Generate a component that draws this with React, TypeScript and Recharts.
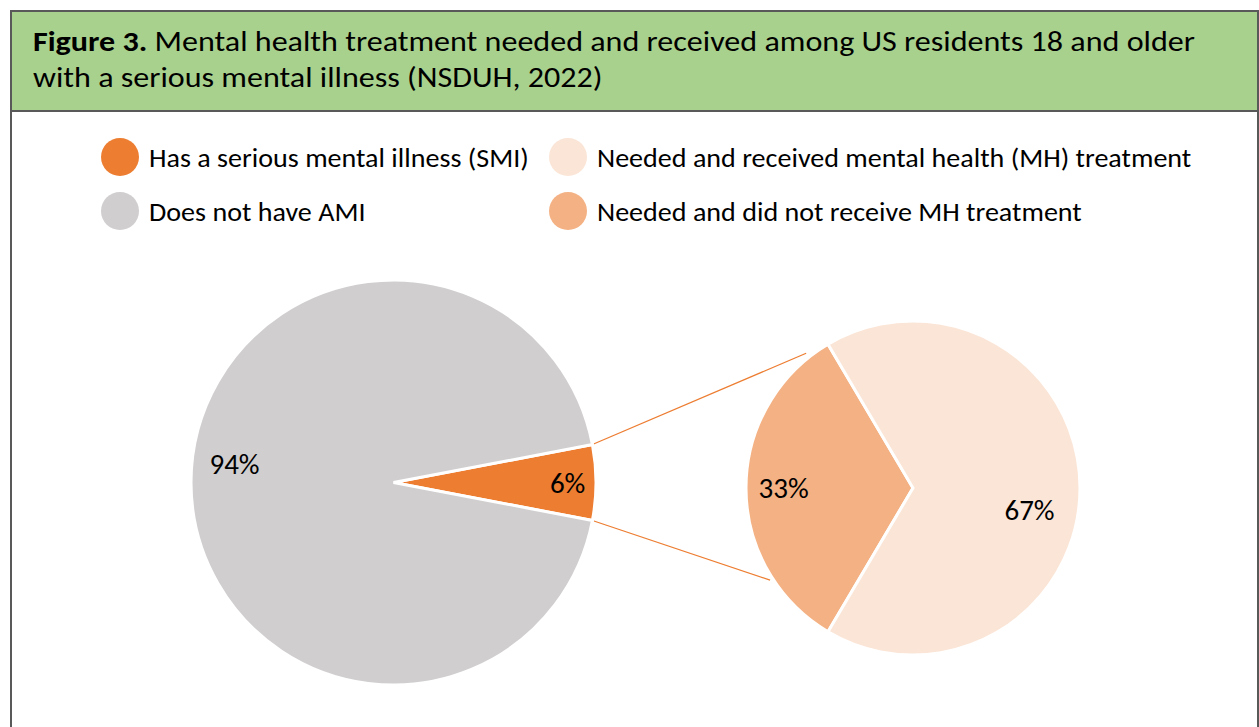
import React from 'react';
import { PieChart, Pie, Cell, Customized } from 'recharts';

// ---- data ----
const smiCategories = ['Has a serious mental illness (SMI)', 'Does not have AMI'];
const smiValues = [6, 94];
const treatmentCategories = ['Needed and did not receive MH treatment', 'Needed and received mental health (MH) treatment'];
const treatmentValues = [33, 67];
const legendOrder = [
  'Has a serious mental illness (SMI)',
  'Needed and received mental health (MH) treatment',
  'Does not have AMI',
  'Needed and did not receive MH treatment',
];
const titleBold = 'Figure 3.';
const titleLine1 = ' Mental health treatment needed and received among US residents 18 and older';
const titleLine2 = 'with a serious mental illness (NSDUH, 2022)';

// ---- styles ----
const COLORS: Record<string, string> = {
  'Has a serious mental illness (SMI)': '#ED7D31',
  'Does not have AMI': '#D0CECE',
  'Needed and did not receive MH treatment': '#F4B183',
  'Needed and received mental health (MH) treatment': '#FBE5D6',
};
const FONT = 'Carlito, Calibri, Lato, sans-serif';
const W = 1259;
const H = 727;
const LEFT = { cx: 393.5, cy: 482.5, r: 202.5 };
const RIGHT = { cx: 913, cy: 488, r: 167 };
// label placement: [radius fraction, angle shift in degrees]
const LABEL_POS: Record<string, [number, number]> = {
  'Has a serious mental illness (SMI)': [0.86, 0],
  'Does not have AMI': [0.79, -6.5],
  'Needed and did not receive MH treatment': [0.775, 0],
  'Needed and received mental health (MH) treatment': [0.71, -10.6],
};
// connector end points on right pie: [angle deg, radius]
const CONNECT_RIGHT: [number, number][] = [
  [128.4, 172],
  [212.8, 170],
];

const smiData = smiCategories.map((name, i) => ({ name, value: smiValues[i] }));
const treatmentData = treatmentCategories.map((name, i) => ({ name, value: treatmentValues[i] }));

const smiTotal = smiValues.reduce((a, b) => a + b, 0);
const smiHalfAngle = (smiValues[0] / smiTotal) * 180;
const trTotal = treatmentValues.reduce((a, b) => a + b, 0);
const trHalfAngle = (treatmentValues[0] / trTotal) * 180;

const RAD = Math.PI / 180;
const polar = (cx: number, cy: number, r: number, a: number) => ({
  x: cx + r * Math.cos(a * RAD),
  y: cy - r * Math.sin(a * RAD),
});

const renderLabel = (props: any) => {
  const { cx, cy, midAngle, outerRadius, name, value } = props;
  const [f, shift] = LABEL_POS[name] || [0.7, 0];
  const p = polar(cx, cy, outerRadius * f, midAngle + shift);
  return (
    <text x={p.x} y={p.y} fill="#000" fontSize={29} fontFamily={FONT} textAnchor="middle" dominantBaseline="central">
      {`${value}%`}
    </text>
  );
};

const Connectors = () => {
  const a = polar(LEFT.cx, LEFT.cy, LEFT.r, smiHalfAngle);
  const b = polar(LEFT.cx, LEFT.cy, LEFT.r, -smiHalfAngle);
  const c = polar(RIGHT.cx, RIGHT.cy, CONNECT_RIGHT[0][1], CONNECT_RIGHT[0][0]);
  const d = polar(RIGHT.cx, RIGHT.cy, CONNECT_RIGHT[1][1], CONNECT_RIGHT[1][0]);
  return (
    <g>
      <line x1={a.x} y1={a.y} x2={c.x} y2={c.y} stroke="#ED7D31" strokeWidth={1.2} />
      <line x1={b.x} y1={b.y} x2={d.x} y2={d.y} stroke="#ED7D31" strokeWidth={1.2} />
    </g>
  );
};

const legendPos = [
  { x: 119.5, y: 157 },
  { x: 567.5, y: 157 },
  { x: 119.5, y: 211 },
  { x: 567.5, y: 211 },
];

export default function App() {
  return (
    <div style={{ position: 'absolute', left: 0, top: 0, width: W, height: H, overflow: 'hidden', background: '#fff', fontFamily: FONT }}>
      {/* frame */}
      <div style={{ position: 'absolute', left: 10, top: 10, width: 1245, height: 740, borderTop: '2px solid #595959', borderLeft: '2px solid #595959', borderRight: '2px solid #595959' }} />
      <div style={{ position: 'absolute', left: 12, top: 12, width: 1245, height: 98, background: '#A9D18E', borderBottom: '2px solid #595959' }} />
      <div style={{ position: 'absolute', left: 33, top: 23, fontSize: 29, lineHeight: '36px', color: '#000', whiteSpace: 'nowrap', transform: 'scaleX(1.106)', transformOrigin: 'left top' }}>
        <b>{titleBold}</b>{titleLine1}
        <br />
        {titleLine2}
      </div>
      {/* legend */}
      {legendOrder.map((name, i) => (
        <div key={name} style={{ position: 'absolute', left: legendPos[i].x - 19, top: legendPos[i].y - 19, height: 38, display: 'flex', alignItems: 'center', whiteSpace: 'nowrap' }}>
          <span style={{ display: 'inline-block', width: 38, height: 38, borderRadius: '50%', background: COLORS[name] }} />
          <span style={{ marginLeft: 10, fontSize: 27, color: '#000', display: 'inline-block', transform: 'scaleX(1.04)', transformOrigin: 'left center' }}>{name}</span>
        </div>
      ))}
      <div style={{ position: 'absolute', left: 0, top: 0 }}>
        <PieChart width={W} height={H} margin={{ top: 0, right: 0, bottom: 0, left: 0 }}>
          <Pie
            data={smiData}
            dataKey="value"
            nameKey="name"
            cx={LEFT.cx}
            cy={LEFT.cy}
            outerRadius={LEFT.r}
            startAngle={-smiHalfAngle}
            endAngle={360 - smiHalfAngle}
            stroke="#fff"
            strokeWidth={3}
            label={renderLabel}
            labelLine={false}
            isAnimationActive={false}
          >
            {smiData.map((d) => (
              <Cell key={d.name} fill={COLORS[d.name]} />
            ))}
          </Pie>
          <Pie
            data={treatmentData}
            dataKey="value"
            nameKey="name"
            cx={RIGHT.cx}
            cy={RIGHT.cy}
            outerRadius={RIGHT.r}
            startAngle={180 - trHalfAngle}
            endAngle={540 - trHalfAngle}
            stroke="#fff"
            strokeWidth={3}
            label={renderLabel}
            labelLine={false}
            isAnimationActive={false}
          >
            {treatmentData.map((d) => (
              <Cell key={d.name} fill={COLORS[d.name]} />
            ))}
          </Pie>
          <Customized component={Connectors} />
        </PieChart>
      </div>
    </div>
  );
}
